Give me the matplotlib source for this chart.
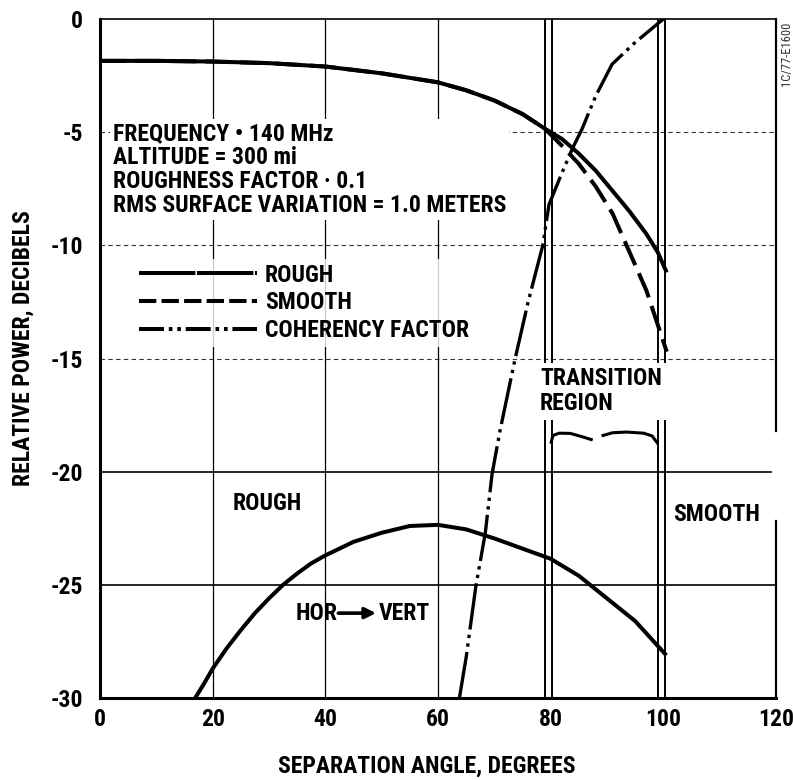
"""Relative power versus separation angle, rough and smooth surface cases."""

import matplotlib.pyplot as plt
from matplotlib.lines import Line2D


plt.rcParams["font.family"] = [
    "Liberation Sans Narrow",
    "DejaVu Sans Condensed",
    "Roboto Condensed",
    "DejaVu Sans",
]
plt.rcParams["font.weight"] = "bold"
plt.rcParams["axes.labelweight"] = "bold"
plt.rcParams["axes.unicode_minus"] = False

INK = "black"
FONT = 17

# Rough surface curve
rough_angle = [0, 10, 20, 30, 40, 50, 60, 65, 70, 75, 79, 82, 85, 88, 91, 94, 97, 99, 100.6]
rough_db = [-1.85, -1.85, -1.88, -1.95, -2.1, -2.4, -2.8, -3.15, -3.6, -4.2, -4.85,
            -5.3, -5.95, -6.7, -7.6, -8.5, -9.5, -10.3, -11.2]

# Smooth surface curve (merges with the rough one below 79 degrees)
smooth_angle = [0, 10, 20, 30, 40, 50, 60, 65, 70, 75, 79, 82, 85, 88, 91, 94, 97, 99, 100.6]
smooth_db = [-1.85, -1.85, -1.88, -1.95, -2.1, -2.4, -2.8, -3.15, -3.6, -4.2, -4.85,
             -5.6, -6.4, -7.4, -8.6, -10.3, -12.0, -13.5, -14.7]

# Coherency factor
coherency_angle = [63.8, 65, 66.7, 68.4, 69.6, 71, 73.7, 76, 78.6, 79.7, 82, 84, 85.5,
                   88, 90.9, 94.7, 100]
coherency_db = [-30, -28.2, -25.1, -22.7, -20.1, -18.2, -15, -12.5, -10, -8.2, -6.8,
                -5.65, -4.9, -3.4, -2.0, -1.1, 0]

# Horizontal to vertical cross-polarisation
hv_angle = [16.9, 18.5, 20, 22.5, 25, 27.5, 30, 32.5, 35, 37.5, 40, 45, 50, 55, 60, 65,
            70, 75, 80, 85, 90, 95, 100.3]
hv_db = [-30, -29.35, -28.7, -27.8, -27.0, -26.25, -25.6, -25.0, -24.5, -24.05, -23.7,
         -23.1, -22.7, -22.4, -22.35, -22.55, -22.95, -23.4, -23.85, -24.6, -25.6,
         -26.6, -28.05]

x_ticks = [0, 20, 40, 60, 80, 100, 120]
y_ticks = [0, -5, -10, -15, -20, -25, -30]

conditions = [
    "FREQUENCY \u2022 140 MHz",
    "ALTITUDE = 300 mi",
    "ROUGHNESS FACTOR \u00b7 0.1",
    "RMS SURFACE VARIATION = 1.0 METERS",
]

LW = 2.9
SMOOTH_DASH = (0, (6.5, 2.2))
COHERENCY_DASH = (0, (14, 1.6, 1.0, 1.6, 1.0, 1.6))


def main() -> None:
    fig = plt.figure(figsize=(7.93, 7.80), dpi=100)
    ax = fig.add_axes([100 / 793, 1 - 698 / 780, 676 / 793, 679 / 780])
    ax.set_xlim(0, 120)
    ax.set_ylim(-30, 0)

    # grid: thin verticals, double lines bounding the transition region
    for x in (20, 40, 60):
        ax.axvline(x, color=INK, lw=0.9, zorder=1)
    for x in (79.0, 80.2, 99.1, 100.3):
        ax.axvline(x, color=INK, lw=1.4, zorder=1)
    for y in (-5, -10, -15):
        ax.axhline(y, color=INK, lw=0.8, ls=(0, (4, 3)), alpha=0.8, zorder=1)
    ax.plot([0, 119.2], [-20, -20], color=INK, lw=1.2, zorder=1)
    ax.axhline(-25, color=INK, lw=1.2, zorder=1)

    # frame: right edge is broken around the SMOOTH label
    for side in ("left", "bottom"):
        ax.spines[side].set_linewidth(2.2)
    ax.spines["top"].set_linewidth(1.2)
    ax.spines["right"].set_visible(False)
    ax.plot([120, 120], [0, -18.2], color=INK, lw=1.6, clip_on=False, zorder=2)
    ax.plot([120, 120], [-22.2, -30], color=INK, lw=1.6, clip_on=False, zorder=2)

    ax.plot(rough_angle, rough_db, color=INK, lw=LW, solid_capstyle="butt", zorder=4)
    ax.plot(smooth_angle, smooth_db, color=INK, lw=LW, ls=SMOOTH_DASH, zorder=4)
    ax.plot(coherency_angle, coherency_db, color=INK, lw=2.4, ls=COHERENCY_DASH, zorder=4)
    ax.plot(hv_angle, hv_db, color=INK, lw=LW, zorder=4)

    ax.set_xticks(x_ticks)
    ax.set_yticks(y_ticks)
    ax.set_xticklabels([str(v) for v in x_ticks])
    ax.set_yticklabels([str(v) for v in y_ticks])
    ax.tick_params(length=0, labelsize=FONT)
    ax.tick_params(axis="x", pad=7)
    ax.tick_params(axis="y", pad=12)
    ax.set_xlabel("SEPARATION ANGLE, DEGREES", fontsize=FONT)
    ax.set_ylabel("RELATIVE POWER, DECIBELS", fontsize=FONT)
    ax.xaxis.set_label_coords(0.484, -0.083)
    ax.yaxis.set_label_coords(-0.097, 0.515)

    white = dict(facecolor="white", edgecolor="none", pad=2)
    ax.text(2.3, -4.55, "\n".join(conditions), fontsize=FONT, va="top", ha="left",
            linespacing=1.05, bbox=white, zorder=3)

    handles = [
        Line2D([], [], color=INK, lw=LW, ls=(0, (14, 0.4))),
        Line2D([], [], color=INK, lw=LW, ls=(0, (4.3, 1.3))),
        Line2D([], [], color=INK, lw=LW, ls=(0, (6.2, 1.2, 0.9, 1.2, 0.9, 1.2))),
    ]
    leg = ax.legend(handles, ["ROUGH", "SMOOTH", "COHERENCY FACTOR"],
                    loc="upper left", bbox_to_anchor=(6.0, -10.6),
                    bbox_transform=ax.transData, fontsize=FONT, frameon=True,
                    handlelength=5.0, handletextpad=0.36, labelspacing=0.2,
                    borderpad=0.2, borderaxespad=0, fancybox=False)
    leg.get_frame().set_facecolor("white")
    leg.get_frame().set_edgecolor("none")
    leg.set_zorder(3)

    ax.text(78.1, -16.45, "TRANSITION\nREGION", fontsize=FONT, ha="left", va="center",
            linespacing=1.12, bbox=dict(facecolor="white", edgecolor="none", pad=3),
            zorder=3)

    # curly brace under the transition label
    ax.plot([80.1, 80.4, 81.5, 83.5, 85.5, 87.2], [-18.7, -18.4, -18.3, -18.31, -18.45, -18.58],
            color=INK, lw=2.2, zorder=4)
    ax.plot([89.3, 91.0, 93.5, 96.5, 98.0, 98.9], [-18.4, -18.28, -18.25, -18.3, -18.42, -18.72],
            color=INK, lw=2.2, zorder=4)

    ax.text(29.7, -21.4, "ROUGH", fontsize=FONT, ha="center", va="center", zorder=3)
    ax.text(109.4, -21.9, "SMOOTH", fontsize=FONT, ha="center", va="center", zorder=3)
    ax.text(34.8, -26.25, "HOR", fontsize=FONT, ha="left", va="center", zorder=3)
    ax.text(49.4, -26.25, "VERT", fontsize=FONT, ha="left", va="center", zorder=3)
    ax.annotate("", xy=(49.0, -26.25), xytext=(42.3, -26.25),
                arrowprops=dict(arrowstyle="-|>", color=INK, lw=2.6, mutation_scale=16,
                                shrinkA=0, shrinkB=0))

    fig.text(786 / 793, 1 - 54 / 780, "1C/77-E1600", rotation=90, fontsize=9,
             fontweight="normal", ha="center", va="center", color="#333333")

    fig.savefig("out.png", dpi=100)
    plt.close(fig)


if __name__ == "__main__":
    main()
